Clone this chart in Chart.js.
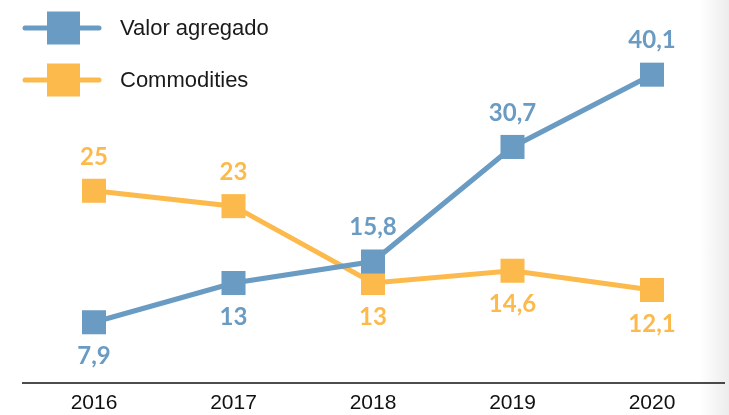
<!DOCTYPE html>
<html>
<head>
<meta charset="utf-8">
<script src="https://cdn.jsdelivr.net/npm/chart.js@4"></script>
<style>
html, body { margin: 0; padding: 0; }
body { width: 729px; height: 415px; background: linear-gradient(to right, #fff 0px, #fff 700px, #ececec 729px); }
#wrap { position: relative; width: 729px; height: 415px; }
</style>
</head>
<body>
<div id="wrap"><canvas id="grafico" width="729" height="415"></canvas></div>
<script>
// DADOS
var anos = ['2016', '2017', '2018', '2019', '2020'];
var valorAgregado = [7.9, 13, 15.8, 30.7, 40.1];
var commodities = [25, 23, 13, 14.6, 12.1];
var rotulosValor = ['7,9', '13', '15,8', '30,7', '40,1'];
var rotulosCommodities = ['25', '23', '13', '14,6', '12,1'];
// acima (-1) ou abaixo (1) do ponto
var posValor = [1, 1, -1, -1, -1];
var posCommodities = [-1, -1, 1, 1, 1];

var AZUL = '#6a9bc2';
var LARANJA = '#fdba4c';

var rotulos = {
  id: 'rotulos',
  afterDatasetsDraw: function (chart) {
    var ctx = chart.ctx;
    var conf = [[rotulosValor, posValor, AZUL], [rotulosCommodities, posCommodities, LARANJA]];
    ctx.save();
    ctx.font = 'bold 24px Lato';
    ctx.textAlign = 'center';
    ctx.textBaseline = 'middle';
    conf.forEach(function (c, i) {
      chart.getDatasetMeta(i).data.forEach(function (p, j) {
        ctx.fillStyle = c[2];
        ctx.fillText(c[0][j], p.x, p.y + c[1][j] * 34);
      });
    });
    ctx.restore();
  }
};

var eixo = {
  id: 'eixo',
  beforeDatasetsDraw: function (chart) {
    var ctx = chart.ctx;
    var y = chart.chartArea.bottom;
    ctx.save();
    ctx.strokeStyle = '#111';
    ctx.lineWidth = 1.5;
    ctx.beginPath();
    ctx.moveTo(22, y);
    ctx.lineTo(725, y);
    ctx.stroke();
    ctx.restore();
  }
};

var legenda = {
  id: 'legenda',
  afterDraw: function (chart) {
    var ctx = chart.ctx;
    var itens = [['Valor agregado', AZUL, 28], ['Commodities', LARANJA, 80]];
    ctx.save();
    itens.forEach(function (it) {
      ctx.strokeStyle = it[1];
      ctx.lineWidth = 5;
      ctx.lineCap = 'round';
      ctx.beginPath();
      ctx.moveTo(25, it[2]);
      ctx.lineTo(99, it[2]);
      ctx.stroke();
      ctx.fillStyle = it[1];
      ctx.fillRect(47, it[2] - 16.5, 33, 33);
      ctx.fillStyle = '#1a1a1a';
      ctx.font = '22px "Liberation Sans"';
      ctx.textBaseline = 'middle';
      ctx.textAlign = 'left';
      ctx.fillText(it[0], 120, it[2] + 1);
    });
    ctx.restore();
  }
};

new Chart(document.getElementById('grafico'), {
  type: 'line',
  data: {
    labels: anos,
    datasets: [{
      label: 'Valor agregado',
      data: valorAgregado,
      borderColor: AZUL,
      backgroundColor: AZUL,
      borderWidth: 5,
      pointStyle: 'rect',
      pointRadius: 17,
      pointBorderWidth: 0,
      tension: 0
    }, {
      label: 'Commodities',
      data: commodities,
      borderColor: LARANJA,
      backgroundColor: LARANJA,
      borderWidth: 5,
      pointStyle: 'rect',
      pointRadius: 17,
      pointBorderWidth: 0,
      tension: 0
    }]
  },
  options: {
    responsive: false,
    animation: false,
    layout: { padding: { left: 94, right: 77, top: 11, bottom: -9 } },
    plugins: { legend: { display: false }, tooltip: { enabled: false } },
    scales: {
      x: {
        offset: false,
        grid: { display: false, drawTicks: false },
        border: { display: false },
        ticks: { color: '#111', padding: 10, font: { family: 'Liberation Sans', size: 21, lineHeight: 1 }, maxRotation: 0 }
      },
      y: { display: false, min: 0, max: 47.6 }
    }
  },
  plugins: [eixo, rotulos, legenda]
});
</script>
</body>
</html>
